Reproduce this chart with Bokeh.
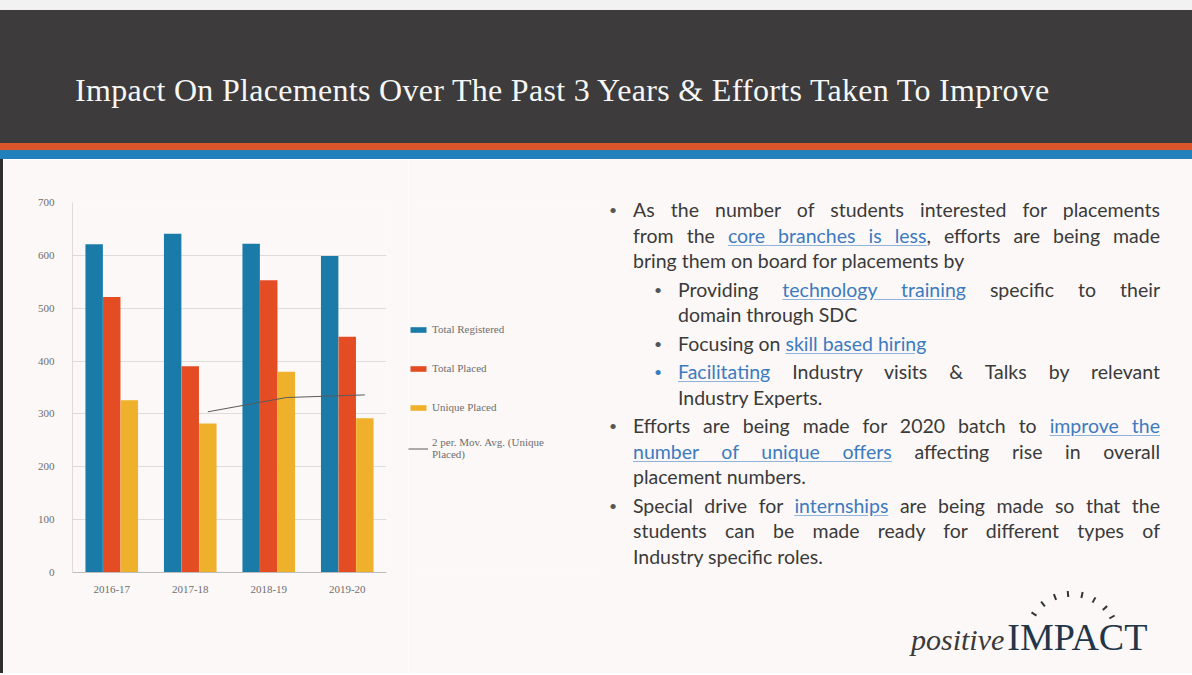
import math
from bokeh.plotting import figure
from bokeh.models import (ColumnDataSource, FactorRange, Range1d, Legend,
                          LegendItem, Div, FixedTicker)
from bokeh.layouts import column, row
from bokeh.transform import dodge
from bokeh.embed import file_html
from bokeh.resources import INLINE

# ---------------- data ----------------
years = ["2016-17", "2017-18", "2018-19", "2019-20"]
total_registered = [621, 641, 622, 599]
total_placed = [521, 390, 553, 446]
unique_placed = [326, 282, 380, 292]
series_labels = ["Total Registered", "Total Placed", "Unique Placed",
                 "2 per. Mov. Avg. (Unique\nPlaced)"]
y_tick_values = [0, 100, 200, 300, 400, 500, 600, 700]

mov_avg_years = years[1:]
mov_avg_values = [(unique_placed[i - 1] + unique_placed[i]) / 2
                  for i in range(1, len(unique_placed))]

title_text = "Impact On Placements Over The Past 3 Years &amp; Efforts Taken To Improve"

# ---------------- style ----------------
BG = "#fcf8f7"
BLUE = "#1a7ba8"
RED = "#e44c24"
YELLOW = "#efb12c"
LINE = "#5a5a5a"
BANNER = "#3d3b3b"
STRIPE_ORANGE = "#dc552b"
STRIPE_BLUE = "#2281ba"
SERIF = "Liberation Serif"
W = 1192
MAIN_H = 514
CHART_W = 405
LEG_W = 190

source = ColumnDataSource(dict(year=years, reg=total_registered,
                               placed=total_placed, unique=unique_placed))
ma_source = ColumnDataSource(dict(year=mov_avg_years, ma=mov_avg_values))

p = figure(x_range=FactorRange(*years, range_padding=0, factor_padding=0),
           y_range=Range1d(0, 700),
           width=CHART_W, height=MAIN_H,
           output_backend="svg", toolbar_location=None,
           min_border_left=69, min_border_right=CHART_W - 69 - 314,
           min_border_top=43, min_border_bottom=MAIN_H - 43 - 370,
           background_fill_color=BG, border_fill_color=BG,
           outline_line_color=None)

off = 0.224
bw = 0.222
p.vbar(x=dodge("year", -off, range=p.x_range), top="reg", width=bw,
       source=source, fill_color=BLUE, line_color=None)
p.vbar(x=dodge("year", 0, range=p.x_range), top="placed", width=bw,
       source=source, fill_color=RED, line_color=None)
p.vbar(x=dodge("year", off, range=p.x_range), top="unique", width=bw,
       source=source, fill_color=YELLOW, line_color=None)
p.line(x=dodge("year", off, range=p.x_range), y="ma", source=ma_source,
       line_color=LINE, line_width=1)

p.yaxis.ticker = FixedTicker(ticks=y_tick_values)
p.ygrid.ticker = FixedTicker(ticks=y_tick_values)
p.ygrid.grid_line_color = "#dcdcdc"
p.xgrid.grid_line_color = None
for ax in (p.xaxis, p.yaxis):
    ax.major_tick_line_color = None
    ax.minor_tick_line_color = None
    ax.major_label_text_font = SERIF
    ax.major_label_text_font_size = "11px"
    ax.major_label_text_color = "#6e6e6e"
p.yaxis.axis_line_color = "#dcdcdc"
p.xaxis.axis_line_color = "#bdbdbd"
p.yaxis.major_label_standoff = 12
p.xaxis.major_label_standoff = 7

# ---------------- legend (own figure; key glyphs of zero width, out of view) ----------------
pl = figure(width=LEG_W, height=MAIN_H,
            x_range=FactorRange(*years, range_padding=0, factor_padding=0),
            y_range=Range1d(800, 900),
            output_backend="svg", toolbar_location=None,
            x_axis_location=None, y_axis_location=None,
            min_border=0, min_border_left=0, min_border_right=0,
            min_border_top=0, min_border_bottom=0,
            background_fill_color=BG, border_fill_color=BG,
            outline_line_color=None)
pl.xgrid.visible = False
pl.ygrid.visible = False
k1 = pl.vbar(x="year", top="reg", width=0, source=source, fill_color=BLUE, line_color=None)
k2 = pl.vbar(x="year", top="placed", width=0, source=source, fill_color=RED, line_color=None)
k3 = pl.vbar(x="year", top="unique", width=0, source=source, fill_color=YELLOW, line_color=None)
k4 = pl.line(x="year", y="ma", source=ma_source, line_color=LINE, line_width=1)

legend = Legend(items=[LegendItem(label=series_labels[0], renderers=[k1]),
                       LegendItem(label=series_labels[1], renderers=[k2]),
                       LegendItem(label=series_labels[2], renderers=[k3]),
                       LegendItem(label=series_labels[3], renderers=[k4])],
                location=(0, 112), margin=0, padding=0, spacing=19,
                glyph_width=20, glyph_height=7, label_standoff=4,
                label_height=20,
                label_text_font=SERIF, label_text_font_size="11px",
                label_text_color="#6e6e6e", background_fill_alpha=0,
                border_line_color=None)
pl.add_layout(legend)

# ---------------- banner ----------------
top_gap = Div(text="", width=W, height=10, margin=0,
              styles={"background-color": "#f2f2f2"})
banner = Div(text=(f'<div style="padding:64px 0 0 75px;font-family:\'{SERIF}\';'
                   f'font-size:32px;line-height:32px;letter-spacing:0.3px;'
                   f'color:#f7f7f7;white-space:nowrap">'
                   f'{title_text}</div>'),
             width=W, height=133, margin=0,
             styles={"background-color": BANNER})
stripe1 = Div(text="", width=W, height=7, margin=0,
              styles={"background-color": STRIPE_ORANGE})
stripe2 = Div(text="", width=W, height=9, margin=0,
              styles={"background-color": STRIPE_BLUE})
left_edge = Div(text="", width=3, height=MAIN_H, margin=0,
                styles={"background-color": "#2f2f2f"})

# ---------------- bullet text ----------------
LINK = "#3c7bbf"


def link(t):
    return (f'<span style="color:{LINK};text-decoration:underline;'
            f'text-decoration-color:#8fb3da;text-underline-offset:2px">{t}</span>')


def ln(t, just=True):
    if just:
        return f'<div style="text-align:justify;text-align-last:justify">{t}</div>'
    return f'<div style="text-align:left">{t}</div>'


def para(lines, left, width, bullet_color="#555", top=3):
    return (f'<div style="position:relative;margin-left:{left}px;width:{width}px;margin-top:{top}px">'
            f'<span style="position:absolute;left:-24px;top:0;color:{bullet_color};font-size:14px">&#8226;</span>'
            + "".join(lines) + '</div>')


paras = [
    para([ln("As the number of students interested for placements"),
          ln(f"from the {link('core branches is less')}, efforts are being made"),
          ln("bring them on board for placements by", False)], 35, 527, top=0),
    para([ln(f"Providing {link('technology training')} specific to their"),
          ln("domain through SDC", False)], 80, 482),
    para([ln(f"Focusing on {link('skill based hiring')}", False)], 80, 482),
    para([ln(f"{link('Facilitating')} Industry visits &amp; Talks by relevant"),
          ln("Industry Experts.", False)], 80, 482, bullet_color=LINK),
    para([ln(f"Efforts are being made for 2020 batch to {link('improve the')}"),
          ln(f"{link('number of unique offers')} affecting rise in overall"),
          ln("placement numbers.", False)], 35, 527),
    para([ln(f"Special drive for {link('internships')} are being made so that the"),
          ln("students can be made ready for different types of"),
          ln("Industry specific roles.", False)], 35, 527),
]

# logo dashes (decorative)
cx, cy, rad = 474, 481, 46
dashes = ""
for ang in [146, 129, 112, 95, 78, 61, 44, 30]:
    a = math.radians(ang)
    x = cx + rad * math.cos(a)
    y = cy - rad * math.sin(a)
    dashes += (f'<span style="position:absolute;left:{x - 1:.1f}px;top:{y - 3:.1f}px;'
               f'width:2px;height:6px;background:#2f3338;transform:rotate({90 - ang}deg)"></span>')

logo = (f'<div style="position:absolute;left:313px;top:459px;white-space:nowrap;line-height:1">'
        f'<span style="font-family:\'{SERIF}\';font-style:italic;font-size:30px;color:#3a3a3a">positive</span>'
        f'<span style="font-family:\'{SERIF}\';font-size:38px;color:#22364a;margin-left:3px">IMPACT</span>'
        f'</div>')

TW = W - 3 - CHART_W - LEG_W
text_html = (f'<div style="position:relative;width:{TW}px;height:{MAIN_H}px;'
             f'font-family:Lato;font-size:19.5px;line-height:25.5px;color:#3a3a3a">'
             f'<div style="position:absolute;left:0;top:38px;width:{TW}px">'
             + "".join(paras) + '</div>' + dashes + logo + '</div>')

text_div = Div(text=text_html, width=TW, height=MAIN_H, margin=0,
               styles={"background-color": BG})

layout = column(top_gap, banner, stripe1, stripe2,
                row(left_edge, p, pl, text_div, spacing=0), spacing=0)

open("out.html", "w").write(file_html(layout, INLINE))
